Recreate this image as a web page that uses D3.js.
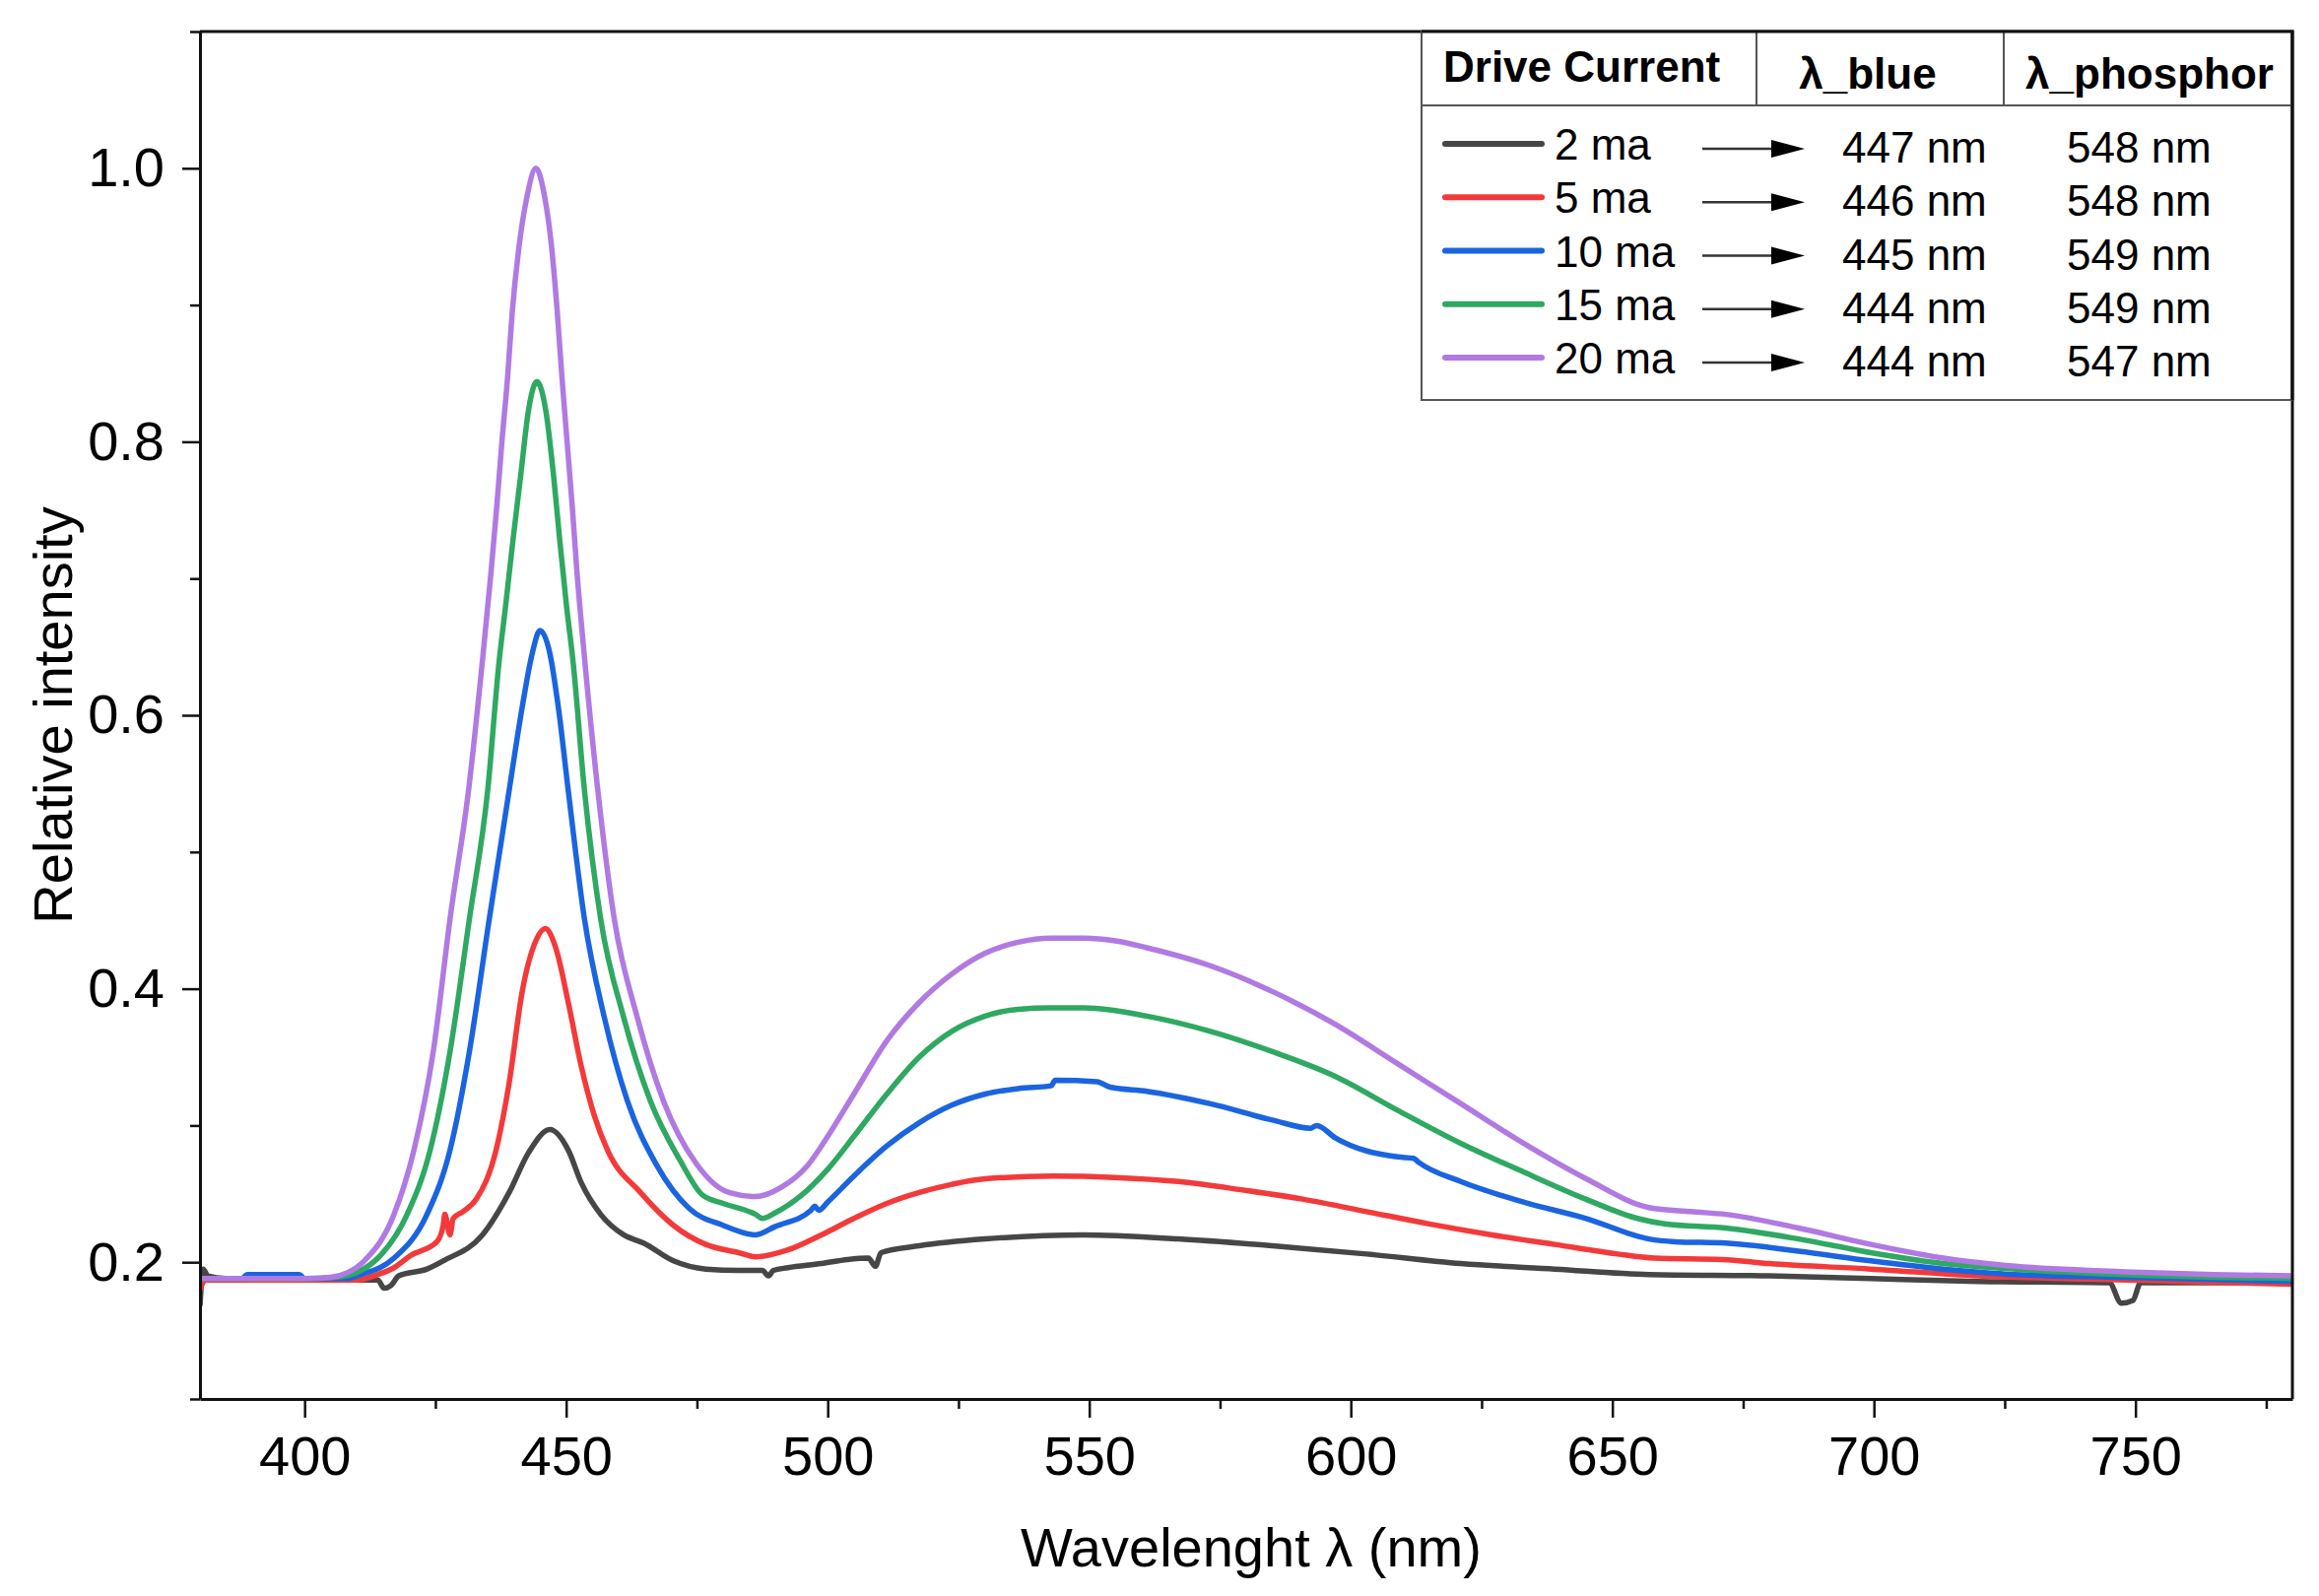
<!DOCTYPE html>
<html>
<head>
<meta charset="utf-8">
<script src="https://cdn.jsdelivr.net/npm/d3@7"></script>
<style>
  body { margin: 0; background: #fff; }
  svg { display: block; font-family: Arial, "Liberation Sans", sans-serif; }
</style>
</head>
<body>
<svg width="2354" height="1620"></svg>
<script>
// spectra: [wavelength nm, relative intensity]
var gray2 = [
  [380, 0.168], [380.6, 0.195], [381.5, 0.19], [385, 0.188], [400, 0.187], [414, 0.187],
  [415.2, 0.181], [416.5, 0.183], [418, 0.19], [423.4, 0.195], [426.5, 0.201], [434, 0.22],
  [439.1, 0.251], [442.8, 0.28], [446.9, 0.297], [450.4, 0.282], [452.9, 0.258], [456.6, 0.235],
  [461, 0.22], [464.8, 0.214], [470.5, 0.201], [476.7, 0.195], [483, 0.194], [487.5, 0.194],
  [488.7, 0.19], [489.6, 0.194], [492.4, 0.196], [498.8, 0.199], [503.8, 0.202], [507.8, 0.203],
  [509.1, 0.197], [510.2, 0.207], [517.5, 0.212], [530.1, 0.217], [548.9, 0.22], [567, 0.217],
  [585, 0.212], [603, 0.206], [621, 0.199], [639, 0.195], [657, 0.191], [680, 0.19],
  [699.4, 0.188], [720, 0.186], [745, 0.185], [747.3, 0.17], [749.5, 0.172], [751, 0.185],
  [780, 0.185]
];
var red5 = [
  [380, 0.18], [381, 0.187], [400, 0.187], [410, 0.187], [414, 0.191], [417.1, 0.196],
  [420.3, 0.205], [425.3, 0.215], [426.5, 0.227], [426.8, 0.235], [427.8, 0.22], [428.4, 0.232],
  [430.3, 0.237], [432.8, 0.246], [436.6, 0.282], [439.1, 0.331], [441.6, 0.398], [444.2, 0.435],
  [446, 0.444], [448, 0.43], [450.4, 0.39], [452.9, 0.343], [455.4, 0.307], [457.9, 0.282],
  [464.2, 0.251], [470.5, 0.227], [476.7, 0.213], [483, 0.207], [486.2, 0.204], [492.4, 0.209],
  [498.8, 0.22], [505, 0.232], [511.3, 0.243], [517.5, 0.251], [523.8, 0.257], [530.1, 0.261],
  [543, 0.263], [555, 0.262], [567, 0.259], [579, 0.253], [591, 0.246], [603, 0.237],
  [615, 0.228], [627, 0.22], [639, 0.213], [651, 0.206], [658, 0.203], [671, 0.202],
  [680, 0.199], [699.4, 0.195], [720, 0.19], [748, 0.187], [780, 0.184]
];
var blue10 = [
  [380, 0.188], [388, 0.188], [389, 0.191], [399, 0.191], [400, 0.188], [408, 0.188],
  [410.8, 0.191], [417.1, 0.203], [423.4, 0.235], [427.8, 0.282], [431.5, 0.354], [435.3, 0.451],
  [439.1, 0.545], [441.6, 0.606], [443.5, 0.645], [445, 0.662], [446.9, 0.645], [448.5, 0.606],
  [450.4, 0.545], [453.5, 0.451], [457.3, 0.379], [461.7, 0.318], [467.3, 0.271], [473.6, 0.239],
  [480, 0.227], [486.2, 0.22], [489.9, 0.226], [496.8, 0.238], [497.5, 0.241], [498.3, 0.238],
  [500, 0.244], [505, 0.263], [511.3, 0.285], [517.5, 0.302], [523.8, 0.315], [530.1, 0.323],
  [536.4, 0.327], [542.7, 0.329], [543.5, 0.333], [551.5, 0.332], [554, 0.328], [561, 0.325],
  [573, 0.316], [585, 0.304], [592.3, 0.298], [593.5, 0.3], [597, 0.291], [609, 0.277],
  [612, 0.276], [613, 0.273], [621, 0.259], [633, 0.244], [645, 0.232], [657, 0.217],
  [662, 0.215], [671.7, 0.214], [685.6, 0.208], [699.4, 0.201], [713.3, 0.195], [727.1, 0.191],
  [748, 0.189], [780, 0.186]
];
var green15 = [
  [380, 0.188], [400, 0.188], [406, 0.189], [410.8, 0.194], [414, 0.203], [419.6, 0.235],
  [424, 0.282], [427.8, 0.354], [431.5, 0.451], [435, 0.545], [437.2, 0.64], [438.4, 0.679],
  [439.8, 0.727], [441.3, 0.775], [442.8, 0.823], [444.4, 0.844], [446.1, 0.823], [447.6, 0.775],
  [448.8, 0.727], [450.1, 0.679], [451.3, 0.64], [453.5, 0.545], [456.6, 0.451], [461, 0.379],
  [466.1, 0.318], [471.7, 0.275], [476.1, 0.249], [480, 0.243], [486.2, 0.235], [487.5, 0.232],
  [489.9, 0.236], [495, 0.249], [500, 0.268], [505, 0.292], [511.3, 0.323], [517.5, 0.35],
  [523.8, 0.369], [530.1, 0.38], [536.4, 0.385], [542.7, 0.386], [549, 0.386], [561, 0.38],
  [573, 0.369], [585, 0.354], [597, 0.336], [609, 0.311], [621, 0.287], [633, 0.266],
  [645, 0.246], [654.8, 0.232], [660, 0.228], [671.7, 0.225], [685.6, 0.217], [699.4, 0.207],
  [713.3, 0.199], [727.1, 0.195], [748, 0.191], [780, 0.188]
];
var purple20 = [
  [380, 0.188], [390, 0.188], [400, 0.188], [405, 0.189], [408, 0.192], [411.4, 0.201],
  [417.1, 0.235], [420.9, 0.282], [424.6, 0.354], [427.8, 0.451], [431.4, 0.547], [434, 0.64],
  [435.6, 0.703], [436.7, 0.751], [437.7, 0.799], [438.8, 0.847], [439.7, 0.895], [441, 0.943],
  [442.5, 0.979], [444.2, 1.0], [445.9, 0.979], [447.2, 0.943], [448.3, 0.895], [449.2, 0.847],
  [450.2, 0.799], [451.2, 0.751], [452.1, 0.703], [453.2, 0.655], [456, 0.547], [459.2, 0.451],
  [463.6, 0.379], [468.6, 0.318], [474.9, 0.272], [481.1, 0.251], [486.2, 0.248], [491.2, 0.255],
  [496.2, 0.271], [500, 0.292], [505, 0.323], [511.3, 0.362], [517.5, 0.39], [523.8, 0.411],
  [530.1, 0.426], [536.4, 0.434], [542.7, 0.437], [549, 0.437], [555, 0.435], [561, 0.43],
  [573, 0.417], [585, 0.398], [597, 0.374], [609, 0.345], [621, 0.316], [633, 0.287],
  [645, 0.261], [657, 0.24], [665, 0.237], [671.7, 0.235], [685.6, 0.225], [699.4, 0.213],
  [713.3, 0.203], [727.1, 0.197], [747.9, 0.193], [765, 0.191], [780, 0.19]
];

var currents = ["2 ma", "5 ma", "10 ma", "15 ma", "20 ma"];
var lambdaBlue = ["447 nm", "446 nm", "445 nm", "444 nm", "444 nm"];
var lambdaPhosphor = ["548 nm", "548 nm", "549 nm", "549 nm", "547 nm"];
var colors = ["#464646", "#f33a3a", "#1b64e0", "#2fa862", "#b07ae2"];
var xMajor = [400, 450, 500, 550, 600, 650, 700, 750];
var xMinor = [425, 475, 525, 575, 625, 675, 725, 775];
var yMajor = [0.2, 0.4, 0.6, 0.8, 1.0];
var yMinor = [0.1, 0.3, 0.5, 0.7, 0.9, 1.1];

var series = [gray2, red5, blue10, green15, purple20];

var svg = d3.select("svg");
var plotLeft = 203, plotRight = 2327, plotTop = 32, plotBottom = 1420;

var x = d3.scaleLinear().domain([380, 780]).range([plotLeft, plotRight]);
var y = d3.scaleLinear().domain([0.1, 1.1]).range([plotBottom, plotTop]);

svg.append("clipPath").attr("id", "plot")
  .append("rect")
  .attr("x", plotLeft).attr("y", plotTop)
  .attr("width", plotRight - plotLeft).attr("height", plotBottom - plotTop);

// curves
var line = d3.line()
  .x(function (d) { return x(d[0]); })
  .y(function (d) { return y(d[1]); })
  .curve(d3.curveMonotoneX);

svg.append("g")
  .attr("clip-path", "url(#plot)")
  .selectAll("path")
  .data(series)
  .enter()
  .append("path")
  .attr("d", line)
  .attr("fill", "none")
  .attr("stroke", function (d, i) { return colors[i]; })
  .attr("stroke-width", 5.5)
  .attr("stroke-linejoin", "round");

// axes
function styleAxis(g) {
  g.selectAll("path.domain").attr("stroke", "#111").attr("stroke-width", 3);
  g.selectAll(".tick line").attr("stroke", "#111").attr("stroke-width", 2.5);
  g.selectAll(".tick text")
    .attr("fill", "#000")
    .style("font-size", "56px")
    .style("font-family", "Arial, 'Liberation Sans', sans-serif");
}

svg.append("g")
  .attr("transform", "translate(0," + plotBottom + ")")
  .call(d3.axisBottom(x).tickValues(xMinor).tickSize(10).tickFormat(""))
  .call(function (g) { g.select(".domain").remove(); })
  .call(styleAxis);

svg.append("g")
  .attr("transform", "translate(0," + plotBottom + ")")
  .call(d3.axisBottom(x).tickValues(xMajor).tickSize(19).tickSizeOuter(0).tickPadding(18)
    .tickFormat(d3.format("d")))
  .call(styleAxis);

svg.append("g")
  .attr("transform", "translate(" + plotLeft + ",0)")
  .call(d3.axisLeft(y).tickValues(yMinor).tickSize(10).tickFormat(""))
  .call(function (g) { g.select(".domain").remove(); })
  .call(styleAxis);

svg.append("g")
  .attr("transform", "translate(" + plotLeft + ",0)")
  .call(d3.axisLeft(y).tickValues(yMajor).tickSize(18).tickSizeOuter(0).tickPadding(18)
    .tickFormat(d3.format(".1f")))
  .call(styleAxis);

// frame top and right
svg.append("path")
  .attr("d", "M" + plotLeft + "," + plotTop + "H" + plotRight + "V" + plotBottom)
  .attr("fill", "none")
  .attr("stroke", "#111")
  .attr("stroke-width", 3);

// axis titles
svg.append("text")
  .attr("x", 1270)
  .attr("y", 1590)
  .attr("text-anchor", "middle")
  .style("font-size", "56px")
  .text("Wavelenght λ (nm)");

svg.append("text")
  .attr("text-anchor", "middle")
  .attr("transform", "translate(73,726)rotate(-90)")
  .style("font-size", "56px")
  .text("Relative intensity");

// legend table
var lg = svg.append("g");
var lx0 = 1443, lx1 = 2326, ly0 = 32, lyHead = 107, ly1 = 406;

lg.append("rect")
  .attr("x", lx0).attr("y", ly0)
  .attr("width", lx1 - lx0).attr("height", ly1 - ly0)
  .attr("fill", "#fff")
  .attr("stroke", "#555")
  .attr("stroke-width", 2);
lg.append("line")
  .attr("x1", lx0).attr("x2", lx1).attr("y1", lyHead).attr("y2", lyHead)
  .attr("stroke", "#555").attr("stroke-width", 2);
[1783, 2034].forEach(function (cx) {
  lg.append("line")
    .attr("x1", cx).attr("x2", cx).attr("y1", ly0).attr("y2", lyHead)
    .attr("stroke", "#555").attr("stroke-width", 2);
});
// redraw frame over the table edge
svg.append("path")
  .attr("d", "M" + lx0 + "," + plotTop + "H" + plotRight + "V" + ly1)
  .attr("fill", "none")
  .attr("stroke", "#111")
  .attr("stroke-width", 3);

lg.append("text")
  .attr("x", 1465).attr("y", 83)
  .style("font-size", "44px").style("font-weight", "bold")
  .text("Drive Current");
lg.append("text")
  .attr("x", 1896).attr("y", 90)
  .attr("text-anchor", "middle")
  .style("font-size", "44px").style("font-weight", "bold")
  .text("λ_blue");
lg.append("text")
  .attr("x", 2182).attr("y", 90)
  .attr("text-anchor", "middle")
  .style("font-size", "44px").style("font-weight", "bold")
  .text("λ_phosphor");

var rowY = d3.scaleLinear().domain([0, 4]).range([146, 363]);

var rows = lg.selectAll("g.row")
  .data(currents)
  .enter()
  .append("g")
  .attr("class", "row")
  .attr("transform", function (d, i) { return "translate(0," + rowY(i) + ")"; });

rows.append("line")
  .attr("x1", 1467).attr("x2", 1565)
  .attr("stroke", function (d, i) { return colors[i]; })
  .attr("stroke-width", 6)
  .attr("stroke-linecap", "round");

rows.append("text")
  .attr("x", 1578).attr("y", 16)
  .style("font-size", "44px")
  .text(function (d) { return d; });

rows.append("line")
  .attr("x1", 1728).attr("x2", 1802).attr("y1", 5).attr("y2", 5)
  .attr("stroke", "#333").attr("stroke-width", 2.5);
rows.append("path")
  .attr("d", "M1798,-4L1832,5L1798,14Z")
  .attr("fill", "#000");

rows.append("text")
  .attr("x", 1870).attr("y", 19)
  .style("font-size", "44px")
  .text(function (d, i) { return lambdaBlue[i]; });

rows.append("text")
  .attr("x", 2098).attr("y", 19)
  .style("font-size", "44px")
  .text(function (d, i) { return lambdaPhosphor[i]; });
</script>
</body>
</html>
